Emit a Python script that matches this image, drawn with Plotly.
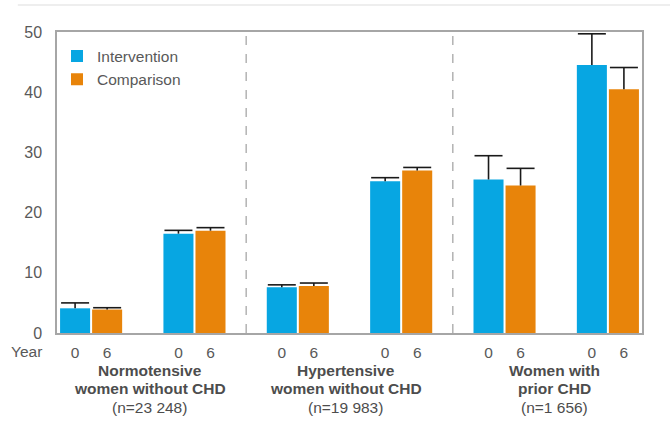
import plotly.graph_objects as go

# ---- data ----
pair_positions = [0, 1, 2, 3, 4, 5]
intervention = [4.1, 16.5, 7.6, 25.2, 25.5, 44.5]
intervention_err = [0.9, 0.55, 0.4, 0.6, 3.95, 5.2]
comparison = [3.9, 17.0, 7.8, 27.0, 24.5, 40.5]
comparison_err = [0.3, 0.5, 0.5, 0.5, 2.85, 3.6]
tick_labels_int = ["0", "0", "0", "0", "0", "0"]
tick_labels_cmp = ["6", "6", "6", "6", "6", "6"]
group_line1 = ["Normotensive", "Hypertensive", "Women with"]
group_line2 = ["women without CHD", "women without CHD", "prior CHD"]
group_n = ["(n=23 248)", "(n=19 983)", "(n=1 656)"]
group_centers = [0.5, 2.5, 4.5]
dividers = [1.5, 3.5]

FONT = "Liberation Sans, Arial, sans-serif"
TXT = "#595959"
LAB = "#4d4d4d"
BLUE = "#07a6e2"
ORANGE = "#e8840a"
ERR = "#1a1a1a"

bargap = 0.38
bargroupgap = 0.0625
offset = (1 - bargap) / 4

fig = go.Figure()
fig.add_trace(go.Bar(
    x=pair_positions, y=intervention, name="Intervention",
    marker=dict(color=BLUE, line=dict(width=0)),
))
fig.add_trace(go.Bar(
    x=pair_positions, y=comparison, name="Comparison",
    marker=dict(color=ORANGE, line=dict(width=0)),
))

# upward-only error whiskers (stem + top cap), drawn from the data arrays
for vals, errs, sign in ((intervention, intervention_err, -1),
                         (comparison, comparison_err, 1)):
    xs, ys, cx, cy = [], [], [], []
    for p, v, e in zip(pair_positions, vals, errs):
        xc = p + sign * offset
        xs += [xc, xc, None]
        ys += [v, v + e, None]
        cx.append(xc)
        cy.append(v + e)
    fig.add_trace(go.Scatter(x=xs, y=ys, mode="lines", showlegend=False,
                             hoverinfo="skip",
                             line=dict(color=ERR, width=1.6)))
    fig.add_trace(go.Scatter(x=cx, y=cy, mode="markers", showlegend=False,
                             hoverinfo="skip",
                             marker=dict(symbol="line-ew", size=20,
                                         line=dict(color=ERR, width=1.6))))

tickvals = []
ticktext = []
for p, a, b in zip(pair_positions, tick_labels_int, tick_labels_cmp):
    tickvals += [p - offset, p + offset]
    ticktext += [a, b]

for d in dividers:
    fig.add_shape(type="line", xref="x", yref="y", x0=d, x1=d, y0=0, y1=50,
                  line=dict(color="#8c8c8c", width=1, dash="dash"))

fig.add_shape(type="line", xref="paper", yref="paper", x0=-0.067, x1=1.05,
              y0=1 + 27 / 301, y1=1 + 27 / 301,
              line=dict(color="#eeeeee", width=2))

shifts = [7, -4, -2]
for c, l1, l2, n, s in zip(group_centers, group_line1, group_line2, group_n, shifts):
    for txt, yc, bold in ((l1, 370.7, True), (l2, 389, True), (n, 407, False)):
        fig.add_annotation(x=c, xref="x", y=-(yc - 333) / 301, yref="paper",
                           text=f"<b>{txt}</b>" if bold else txt,
                           showarrow=False, yanchor="middle", xanchor="center",
                           xshift=s,
                           font=dict(family=FONT, size=15.5, color=LAB))

fig.add_annotation(x=-13 / 585, xref="paper", y=-(351 - 333) / 301, yref="paper",
                   text="Year", showarrow=False, xanchor="right", yanchor="middle",
                   font=dict(family=FONT, size=15.5, color=TXT))

fig.update_layout(
    width=670, height=430,
    margin=dict(l=57, r=28, t=32, b=97),
    paper_bgcolor="white", plot_bgcolor="white",
    barmode="group", bargap=bargap, bargroupgap=bargroupgap,
    font=dict(family=FONT, size=15, color=TXT),
    showlegend=True,
    hovermode=False,
    legend=dict(x=0.0, y=0.975, xanchor="left", yanchor="top",
                bgcolor="rgba(0,0,0,0)", font=dict(family=FONT, size=15.5, color=TXT),
                tracegroupgap=0),
    xaxis=dict(range=[-0.33, 5.33], tickvals=tickvals, ticktext=ticktext,
               showgrid=False, zeroline=False, showline=True, mirror=True,
               linecolor="#a6a6a6", linewidth=1.5, ticks="",
               ticklabelstandoff=5, tickfont=dict(size=15.5, color=TXT)),
    yaxis=dict(range=[0, 50], tickvals=[0, 10, 20, 30, 40, 50],
               showgrid=False, zeroline=False, showline=True, mirror=True,
               linecolor="#a6a6a6", linewidth=1.5, ticks="",
               ticklabelstandoff=10, tickfont=dict(size=16, color=TXT)),
)

fig.write_html("out.html", config={"displayModeBar": False},
               post_script="document.body.style.margin='0';")
